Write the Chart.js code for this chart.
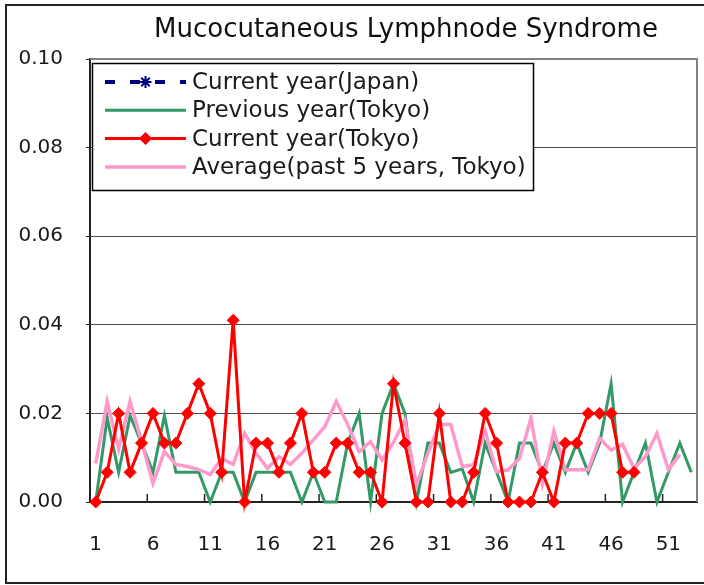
<!DOCTYPE html>
<html>
<head>
<meta charset="utf-8">
<script src="https://cdn.jsdelivr.net/npm/chart.js@4.4.1/dist/chart.umd.min.js"></script>
<style>
html,body{margin:0;padding:0;background:#fff;}
canvas{display:block;}
</style>
</head>
<body>
<canvas id="c" width="704" height="585"></canvas>
<script>
// ---------- data ----------
const chartTitle = 'Mucocutaneous Lymphnode Syndrome';
const weeks = ['1','2','3','4','5','6','7','8','9','10','11','12','13','14','15','16','17','18','19','20',
  '21','22','23','24','25','26','27','28','29','30','31','32','33','34','35','36','37','38','39','40',
  '41','42','43','44','45','46','47','48','49','50','51','52','53'];
const xTickLabels = ['1','6','11','16','21','26','31','36','41','46','51'];
const yTickValues = [0, 0.02, 0.04, 0.06, 0.08, 0.10];

const seriesNames = ['Current year(Japan)', 'Previous year(Tokyo)', 'Current year(Tokyo)', 'Average(past 5 years, Tokyo)'];

const currentYearJapan = [];
const previousYearTokyo = [0, 0.019, 0.0067, 0.0195, 0.0133, 0.0067, 0.0195, 0.0067, 0.0067, 0.0067,
  0, 0.0067, 0.0067, 0, 0.0067, 0.0067, 0.0067, 0.0067, 0, 0.0067,
  0, 0, 0.0133, 0.02, 0, 0.02, 0.0267, 0.02, 0, 0.0133,
  0.0133, 0.0067, 0.0075, 0, 0.0133, 0.0067, 0, 0.0133, 0.0133, 0.0067,
  0.0133, 0.0067, 0.0133, 0.0067, 0.0133, 0.0267, 0, 0.0067, 0.0133, 0,
  0.0067, 0.0133, 0.0067];
const currentYearTokyo = [0, 0.0067, 0.02, 0.0067, 0.0133, 0.02, 0.0133, 0.0133, 0.02, 0.0267,
  0.02, 0.0067, 0.041, 0, 0.0133, 0.0133, 0.0067, 0.0133, 0.02, 0.0067,
  0.0067, 0.0133, 0.0133, 0.0067, 0.0067, 0, 0.0267, 0.0133, 0, 0,
  0.02, 0, 0, 0.0067, 0.02, 0.0133, 0, 0, 0, 0.0067,
  0, 0.0133, 0.0133, 0.02, 0.02, 0.02, 0.0067, 0.0067];
const averagePast5Tokyo = [0.0087, 0.0227, 0.012, 0.0227, 0.0136, 0.0042, 0.0114, 0.0085, 0.008, 0.0073,
  0.0062, 0.0098, 0.0085, 0.0155, 0.011, 0.0076, 0.0102, 0.0085, 0.011, 0.014,
  0.017, 0.0227, 0.0175, 0.0114, 0.0136, 0.0095, 0.0135, 0.0185, 0.0038, 0.011,
  0.0175, 0.0175, 0.008, 0.0084, 0.016, 0.0068, 0.0072, 0.0098, 0.0189, 0.0042,
  0.016, 0.0073, 0.0073, 0.0073, 0.0144, 0.0117, 0.013, 0.0076, 0.0102, 0.0155,
  0.0073, 0.0107];

// ---------- style ----------
const FONT = '"DejaVu Sans", "Liberation Sans", sans-serif';
const TEXT = '#1a1a1a';

const decorPlugin = {
  id: 'decor',
  afterDraw(chart) {
    const ctx = chart.ctx;
    const ca = chart.chartArea;
    const xs = chart.scales.x;
    ctx.save();
    // outer border
    ctx.strokeStyle = '#222';
    ctx.lineWidth = 2;
    ctx.strokeRect(6, 5, 720, 578);
    // plot area top / right border
    ctx.strokeStyle = '#808080';
    ctx.lineWidth = 2;
    ctx.beginPath();
    ctx.moveTo(ca.left, ca.top);
    ctx.lineTo(ca.right, ca.top);
    ctx.lineTo(ca.right, ca.bottom);
    ctx.stroke();
    // x tick marks (inside, between categories)
    ctx.strokeStyle = '#222';
    ctx.lineWidth = 1.5;
    for (let i = 1; i < weeks.length; i++) {
      if (xTickLabels.indexOf(weeks[i]) < 0) continue;
      const x = (xs.getPixelForValue(i - 1) + xs.getPixelForValue(i)) / 2;
      ctx.beginPath();
      ctx.moveTo(x, ca.bottom);
      ctx.lineTo(x, ca.bottom - 8);
      ctx.stroke();
    }
    // title
    ctx.fillStyle = '#111';
    ctx.font = '26px ' + FONT;
    ctx.textAlign = 'center';
    ctx.textBaseline = 'alphabetic';
    ctx.fillText(chartTitle, 406, 37);
    // legend
    const bx = 92, by = 63, bw = 441, bh = 127;
    ctx.fillStyle = '#fff';
    ctx.fillRect(bx, by, bw, bh);
    ctx.strokeStyle = '#000';
    ctx.lineWidth = 1.5;
    ctx.strokeRect(bx + 0.5, by + 0.5, bw, bh);
    const ds = chart.data.datasets;
    for (let i = 0; i < ds.length; i++) {
      const d = ds[i];
      const y = 82 + i * 28.3;
      const x0 = 105, x1 = 186, xm = (x0 + x1) / 2;
      ctx.save();
      ctx.beginPath();
      ctx.rect(x0, y - 10, x1 - x0, 20);
      ctx.clip();
      ctx.strokeStyle = d.borderColor;
      ctx.lineWidth = d.borderWidth;
      ctx.setLineDash(d.borderDash || []);
      ctx.lineCap = 'butt';
      ctx.beginPath();
      ctx.moveTo(x0, y);
      ctx.lineTo(x1, y);
      ctx.stroke();
      ctx.restore();
      if (d.pointRadius > 0) {
        ctx.save();
        ctx.setLineDash([]);
        ctx.fillStyle = d.pointBackgroundColor;
        ctx.strokeStyle = d.pointBorderColor;
        ctx.lineWidth = d.pointBorderWidth;
        Chart.helpers.drawPoint(ctx, {
          pointStyle: d.pointStyle,
          radius: d.pointRadius,
          rotation: 0,
          borderWidth: d.pointBorderWidth
        }, xm, y);
        ctx.restore();
      }
      ctx.fillStyle = TEXT;
      ctx.font = '23px ' + FONT;
      ctx.textAlign = 'left';
      ctx.textBaseline = 'middle';
      ctx.fillText(d.label, 192, y + 1);
    }
    ctx.restore();
  }
};

const chart = new Chart(document.getElementById('c'), {
  type: 'line',
  data: {
    labels: weeks,
    datasets: [
      {
        label: seriesNames[0],
        data: currentYearJapan,
        borderColor: '#000080',
        backgroundColor: '#000080',
        borderWidth: 4,
        borderDash: [10, 15],
        pointStyle: 'star',
        pointRadius: 6,
        pointBorderWidth: 2,
        pointBorderColor: '#000080',
        pointBackgroundColor: '#000080',
        order: 0
      },
      {
        label: seriesNames[1],
        data: previousYearTokyo,
        borderColor: '#339966',
        backgroundColor: '#339966',
        borderWidth: 3,
        pointRadius: 0,
        order: 3
      },
      {
        label: seriesNames[2],
        data: currentYearTokyo,
        borderColor: '#ff0000',
        backgroundColor: '#ff0000',
        borderWidth: 3,
        pointStyle: 'rectRot',
        pointRadius: 6,
        pointBorderWidth: 1,
        pointBorderColor: '#ff0000',
        pointBackgroundColor: '#ff0000',
        order: 1
      },
      {
        label: seriesNames[3],
        data: averagePast5Tokyo,
        borderColor: '#ff99cc',
        backgroundColor: '#ff99cc',
        borderWidth: 3.5,
        pointRadius: 0,
        order: 2
      }
    ]
  },
  options: {
    responsive: false,
    animation: false,
    devicePixelRatio: 1,
    layout: { padding: { top: 59, right: 5, left: 0, bottom: 0 } },
    elements: { line: { tension: 0 } },
    datasets: { line: { clip: false } },
    plugins: {
      legend: { display: false },
      title: { display: false },
      tooltip: { enabled: false }
    },
    scales: {
      x: {
        type: 'category',
        offset: true,
        afterFit(s) { s.height = 83; s.paddingLeft = 0; s.paddingRight = 0; },
        grid: { display: true, drawOnChartArea: false, drawTicks: false, offset: true },
        border: { display: true, color: '#222', width: 2 },
        ticks: {
          autoSkip: false,
          maxRotation: 0,
          padding: 31,
          color: TEXT,
          font: { family: FONT, size: 20 },
          callback(v, i) { return xTickLabels.indexOf(weeks[i]) >= 0 ? weeks[i] : ''; }
        }
      },
      y: {
        min: 0,
        max: 0.1,
        afterFit(s) { s.width = 90; s.paddingTop = 0; s.paddingBottom = 0; },
        afterBuildTicks(s) { s.ticks = yTickValues.map(v => ({ value: v })); },
        grid: {
          color: '#4d4d4d',
          lineWidth: 1,
          tickLength: 4,
          tickColor: '#222'
        },
        border: { display: true, color: '#222', width: 2 },
        ticks: {
          padding: 23,
          color: TEXT,
          font: { family: FONT, size: 20 },
          callback(v) { return Number(v).toFixed(2); }
        }
      }
    }
  },
  plugins: [decorPlugin]
});
</script>
</body>
</html>
